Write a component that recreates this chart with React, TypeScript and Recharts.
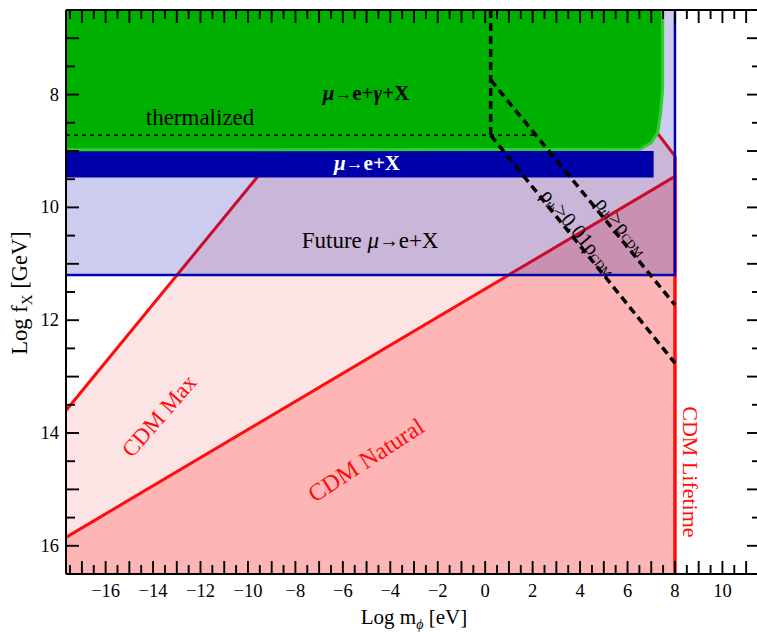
import React from 'react';
import { ComposedChart, XAxis, YAxis, Area, Line, ReferenceArea, ReferenceDot, ReferenceLine } from 'recharts';

// ---- axis ranges & ticks ----
const X_DOMAIN: [number, number] = [-17.67, 11.5];
const Y_DOMAIN: [number, number] = [6.5, 16.5];
const X_TICKS = [
  -17.5, -17, -16.5, -16, -15.5, -15, -14.5, -14, -13.5, -13, -12.5, -12, -11.5, -11, -10.5, -10,
  -9.5, -9, -8.5, -8, -7.5, -7, -6.5, -6, -5.5, -5, -4.5, -4, -3.5, -3, -2.5, -2, -1.5, -1, -0.5,
  0, 0.5, 1, 1.5, 2, 2.5, 3, 3.5, 4, 4.5, 5, 5.5, 6, 6.5, 7, 7.5, 8, 8.5, 9, 9.5, 10, 10.5, 11, 11.5,
];
const X_LABELS = [-16, -14, -12, -10, -8, -6, -4, -2, 0, 2, 4, 6, 8, 10];
const Y_TICKS = [
  6.5, 7, 7.5, 8, 8.5, 9, 9.5, 10, 10.5, 11, 11.5, 12, 12.5, 13, 13.5, 14, 14.5, 15, 15.5, 16, 16.5,
];
const Y_LABELS = [8, 10, 12, 14, 16];

// ---- regions (x: log m [eV], r: [upper, lower] in log f [GeV]) ----
const cdmMaxRegion = [
  { x: -17.67, r: [13.6, 16.5] },
  { x: -3.83, r: [6.5, 16.5] },
  { x: 3.3, r: [6.5, 16.5] },
  { x: 8.0, r: [9.09, 16.5] },
];
const cdmNaturalRegion = [
  { x: -17.67, r: [15.85, 16.5] },
  { x: 8.0, r: [9.45, 16.5] },
];
const greenRegion = [
  { x: -17.67, r: [6.5, 8.98] },
  { x: 6.5, r: [6.5, 8.97] },
  { x: 6.98, r: [6.5, 8.86] },
  { x: 7.27, r: [6.5, 8.68] },
  { x: 7.4, r: [6.5, 8.3] },
  { x: 7.48, r: [6.5, 7.9] },
  { x: 7.48, r: [6.5, 6.5] },
];
const greenEdge = [
  { x: -17.67, y: 8.98 },
  { x: 6.5, y: 8.97 },
  { x: 6.98, y: 8.86 },
  { x: 7.27, y: 8.68 },
  { x: 7.4, y: 8.3 },
  { x: 7.48, y: 7.9 },
  { x: 7.48, y: 6.5 },
];
const futureBox = { x1: -17.67, x2: 8.0, y1: 6.5, y2: 11.2 };
const futureEdge = [
  { x: -17.67, y: 11.2 },
  { x: 8.0, y: 11.2 },
  { x: 8.0, y: 6.5 },
];
const muEXBand = { x1: -17.67, x2: 7.1, y1: 9.0, y2: 9.47 };

// ---- boundary lines ----
const cdmMaxLine = [
  { x: -17.67, y: 13.6 },
  { x: -3.83, y: 6.5 },
];
const cdmMaxRightLine = [
  { x: 3.3, y: 6.5 },
  { x: 8.0, y: 9.09 },
];
const cdmNaturalLine = [
  { x: -17.67, y: 15.85 },
  { x: 8.0, y: 9.45 },
];
const cdmLifetimeLine = [
  { x: 8.0, y: 9.09 },
  { x: 8.0, y: 16.5 },
];
const thermalVertical = [
  { x: 0.23, y: 6.5 },
  { x: 0.23, y: 8.72 },
];
const rhoFullLine = [
  { x: 0.23, y: 7.74 },
  { x: 8.0, y: 11.73 },
];
const rhoPercentLine = [
  { x: 0.23, y: 8.72 },
  { x: 8.0, y: 12.76 },
];
const thermalizedLine = [
  { x: -17.67, y: 8.72 },
  { x: 2.1, y: 8.72 },
];

const FONT = '"Liberation Serif", "DejaVu Serif", serif';
const RED = '#ff0d0d';

// plot box size in pixels (layout)
const CHART_W = 760;
const CHART_H = 632;
const MARGIN = { top: 10, right: 2, bottom: 0, left: 0 };
const Y_AXIS_W = 66;
const X_AXIS_H = 58;
const PLOT_W = CHART_W - MARGIN.left - MARGIN.right - Y_AXIS_W;
const PLOT_H = CHART_H - MARGIN.top - MARGIN.bottom - X_AXIS_H;
const TICK_W = 1.9;

const fmt = (v: number) => (v < 0 ? `\u2212${Math.abs(v)}` : `${v}`);

// bottom ticks also draw the mirrored top ticks
const BottomTick = (p: any) => {
  const v = p.payload.value;
  const len = Number.isInteger(v) ? 13 : 9;
  const top = p.y - PLOT_H;
  return (
    <g>
      <line x1={p.x} y1={p.y} x2={p.x} y2={p.y - len} stroke="#000" strokeWidth={TICK_W} />
      <line x1={p.x} y1={top} x2={p.x} y2={top + len} stroke="#000" strokeWidth={TICK_W} />
      {X_LABELS.includes(v) && (
        <text x={p.x} y={p.y + 23} textAnchor="middle" fontSize={18.5} fontFamily={FONT} fill="#000">
          {fmt(v)}
        </text>
      )}
    </g>
  );
};
// left ticks also draw the mirrored right ticks
const LeftTick = (p: any) => {
  const v = p.payload.value;
  const len = Number.isInteger(v) ? 13 : 9;
  const right = p.x + PLOT_W;
  const rlen = Number.isInteger(v) ? 11 : 6;
  return (
    <g>
      <line x1={p.x} y1={p.y} x2={p.x + len} y2={p.y} stroke="#000" strokeWidth={TICK_W} />
      <line x1={right} y1={p.y} x2={right - rlen} y2={p.y} stroke="#000" strokeWidth={TICK_W} />
      {Y_LABELS.includes(v) && (
        <text x={p.x - 7} y={p.y + 6} textAnchor="end" fontSize={18.5} fontFamily={FONT} fill="#000">
          {fmt(v)}
        </text>
      )}
    </g>
  );
};

const XTitle = (p: any) => {
  const vb = p.viewBox || { x: 66, y: 574, width: 692 };
  return (
    <text x={vb.x + vb.width / 2 + 2} y={vb.y + 50} textAnchor="middle" fontSize={21} fontFamily={FONT} fill="#000">
      Log m<tspan dy={5} fontSize={14} fontStyle="italic">ϕ</tspan>
      <tspan dy={-5}> [eV]</tspan>
    </text>
  );
};
const YTitle = () => {
  const cx = 27;
  const cy = 293;
  return (
    <text x={cx} y={cy} transform={`rotate(-90 ${cx} ${cy})`} textAnchor="middle" fontSize={22.5} fontFamily={FONT} fill="#000">
      Log f<tspan dy={5} fontSize={15}>X</tspan>
      <tspan dy={-5}> [GeV]</tspan>
    </text>
  );
};

type TextOpts = { size?: number; color?: string; angle?: number; weight?: string | number };
const textShape = (content: React.ReactNode, o: TextOpts = {}) => (p: any) => {
  const { size = 20, color = '#000', angle = 0, weight = 'normal' } = o;
  return (
    <text
      x={p.cx}
      y={p.cy}
      textAnchor="middle"
      dominantBaseline="central"
      fontSize={size}
      fontFamily={FONT}
      fontWeight={weight}
      fill={color}
      transform={angle ? `rotate(${angle} ${p.cx} ${p.cy})` : undefined}
    >
      {content}
    </text>
  );
};

const Arrow = () => <tspan fontSize="0.85em">→</tspan>;

const muEGX = (
  <>
    <tspan fontStyle="italic">μ</tspan><Arrow />e+<tspan fontStyle="italic">γ</tspan>+X
  </>
);
const muEX = (
  <>
    <tspan fontStyle="italic">μ</tspan><Arrow />e+X
  </>
);
const futureText = (
  <>
    Future <tspan fontStyle="italic">μ</tspan><Arrow />e+X
  </>
);
const rhoFullText = (
  <>
    ρ<tspan dy={5} fontSize={12}>th</tspan>
    <tspan dy={-5}>&gt;ρ</tspan>
    <tspan dy={5} fontSize={12}>CDM</tspan>
  </>
);
const rhoPctText = (
  <>
    ρ<tspan dy={5} fontSize={12}>th</tspan>
    <tspan dy={-5}>&gt;0.01ρ</tspan>
    <tspan dy={5} fontSize={12}>CDM</tspan>
  </>
);

export default function App() {
  return (
    <div style={{ position: 'absolute', left: 0, top: 0, width: 757, height: 632, overflow: 'hidden', background: '#fff' }}>
      <ComposedChart width={CHART_W} height={CHART_H} margin={MARGIN}>
        {/* CDM regions */}
        <Area xAxisId="b" yAxisId="l" data={cdmMaxRegion} dataKey="r" type="linear" fill="#fde4e4" fillOpacity={1} stroke="none" isAnimationActive={false} zIndex={101} />
        <Area xAxisId="b" yAxisId="l" data={cdmNaturalRegion} dataKey="r" type="linear" fill="#fdb5b5" fillOpacity={1} stroke="none" isAnimationActive={false} zIndex={102} />
        <Line xAxisId="b" yAxisId="l" data={cdmMaxLine} dataKey="y" type="linear" stroke={RED} strokeWidth={3} dot={false} activeDot={false} isAnimationActive={false} zIndex={103} />
        <Line xAxisId="b" yAxisId="l" data={cdmMaxRightLine} dataKey="y" type="linear" stroke={RED} strokeWidth={3} dot={false} activeDot={false} isAnimationActive={false} zIndex={103} />
        <Line xAxisId="b" yAxisId="l" data={cdmNaturalLine} dataKey="y" type="linear" stroke={RED} strokeWidth={3} dot={false} activeDot={false} isAnimationActive={false} zIndex={103} />
        <Line xAxisId="b" yAxisId="l" data={cdmLifetimeLine} dataKey="y" type="linear" stroke={RED} strokeWidth={3.5} dot={false} activeDot={false} isAnimationActive={false} zIndex={103} />

        {/* future mu -> e + X */}
        <ReferenceArea xAxisId="b" yAxisId="l" {...futureBox} fill="#0000aa" fillOpacity={0.2} stroke="none" ifOverflow="visible" zIndex={104} />
        <Line xAxisId="b" yAxisId="l" data={futureEdge} dataKey="y" type="linear" stroke="#0000b0" strokeWidth={2.5} dot={false} activeDot={false} isAnimationActive={false} zIndex={104} />
        {/* current mu -> e + X */}
        <ReferenceArea xAxisId="b" yAxisId="l" {...muEXBand} fill="#0000aa" fillOpacity={1} stroke="none" ifOverflow="visible" zIndex={105} />

        {/* mu -> e + gamma + X */}
        <Area xAxisId="b" yAxisId="l" data={greenRegion} dataKey="r" type="linear" fill="#00b000" fillOpacity={1} stroke="none" isAnimationActive={false} zIndex={106} />
        <Line xAxisId="b" yAxisId="l" data={greenEdge} dataKey="y" type="linear" stroke="#2ccf2c" strokeWidth={3} dot={false} activeDot={false} isAnimationActive={false} zIndex={107} />

        {/* thermalization / relic density lines */}
        <Line xAxisId="b" yAxisId="l" data={thermalizedLine} dataKey="y" type="linear" stroke="#000" strokeWidth={1.8} strokeDasharray="4 4" dot={false} activeDot={false} isAnimationActive={false} zIndex={108} />
        <Line xAxisId="b" yAxisId="l" data={thermalVertical} dataKey="y" type="linear" stroke="#000" strokeWidth={3.5} strokeDasharray="8 5" dot={false} activeDot={false} isAnimationActive={false} zIndex={108} />
        <Line xAxisId="b" yAxisId="l" data={rhoFullLine} dataKey="y" type="linear" stroke="#000" strokeWidth={3.5} strokeDasharray="8 5" dot={false} activeDot={false} isAnimationActive={false} zIndex={108} />
        <Line xAxisId="b" yAxisId="l" data={rhoPercentLine} dataKey="y" type="linear" stroke="#000" strokeWidth={3.5} strokeDasharray="8 5" dot={false} activeDot={false} isAnimationActive={false} zIndex={108} />

        {/* labels */}
        <ReferenceDot xAxisId="b" yAxisId="l" x={-5.02} y={7.97} r={0} ifOverflow="visible" zIndex={110} shape={textShape(muEGX, { size: 21, weight: 'bold' })} />
        <ReferenceDot xAxisId="b" yAxisId="l" x={-12.02} y={8.4} r={0} ifOverflow="visible" zIndex={110} shape={textShape('thermalized', { size: 23 })} />
        <ReferenceDot xAxisId="b" yAxisId="l" x={-4.98} y={9.22} r={0} ifOverflow="visible" zIndex={110} shape={textShape(muEX, { size: 21, color: '#fff', weight: 'bold' })} />
        <ReferenceDot xAxisId="b" yAxisId="l" x={-4.85} y={10.58} r={0} ifOverflow="visible" zIndex={110} shape={textShape(futureText, { size: 23 })} />
        <ReferenceDot xAxisId="b" yAxisId="l" x={-13.74} y={13.7} r={0} ifOverflow="visible" zIndex={110} shape={textShape('CDM Max', { size: 23, color: RED, angle: -49 })} />
        <ReferenceDot xAxisId="b" yAxisId="l" x={-5.02} y={14.48} r={0} ifOverflow="visible" zIndex={110} shape={textShape('CDM Natural', { size: 24, color: RED, angle: -33 })} />
        <ReferenceDot xAxisId="b" yAxisId="l" x={8.64} y={14.69} r={0} ifOverflow="visible" zIndex={110} shape={textShape('CDM Lifetime', { size: 22, color: RED, angle: 90 })} />
        <ReferenceDot xAxisId="b" yAxisId="l" x={3.96} y={10.44} r={0} ifOverflow="visible" zIndex={110} shape={textShape(rhoPctText, { size: 21, angle: 50 })} />
        <ReferenceDot xAxisId="b" yAxisId="l" x={5.78} y={10.33} r={0} ifOverflow="visible" zIndex={110} shape={textShape(rhoFullText, { size: 21, angle: 50 })} />

        {/* top & right frame */}
        <ReferenceLine xAxisId="b" yAxisId="l" y={Y_DOMAIN[0]} stroke="#000" strokeWidth={2} ifOverflow="visible" zIndex={120} />
        <ReferenceLine xAxisId="b" yAxisId="l" x={X_DOMAIN[1]} stroke="#000" strokeWidth={2} ifOverflow="visible" zIndex={120} />

        {/* axes with ticks (on top) */}
        <XAxis xAxisId="b" dataKey="x" type="number" domain={X_DOMAIN} allowDataOverflow ticks={X_TICKS} interval={0} tickSize={0} tickMargin={0} tickLine={false} tick={<BottomTick />} axisLine={{ stroke: '#000', strokeWidth: 2 }} height={X_AXIS_H} label={<XTitle />} zIndex={300} />
        <YAxis yAxisId="l" type="number" domain={Y_DOMAIN} reversed allowDataOverflow ticks={Y_TICKS} interval={0} tickSize={0} tickMargin={0} tickLine={false} tick={<LeftTick />} axisLine={{ stroke: '#000', strokeWidth: 2 }} width={Y_AXIS_W} label={<YTitle />} zIndex={300} />
      </ComposedChart>
    </div>
  );
}
